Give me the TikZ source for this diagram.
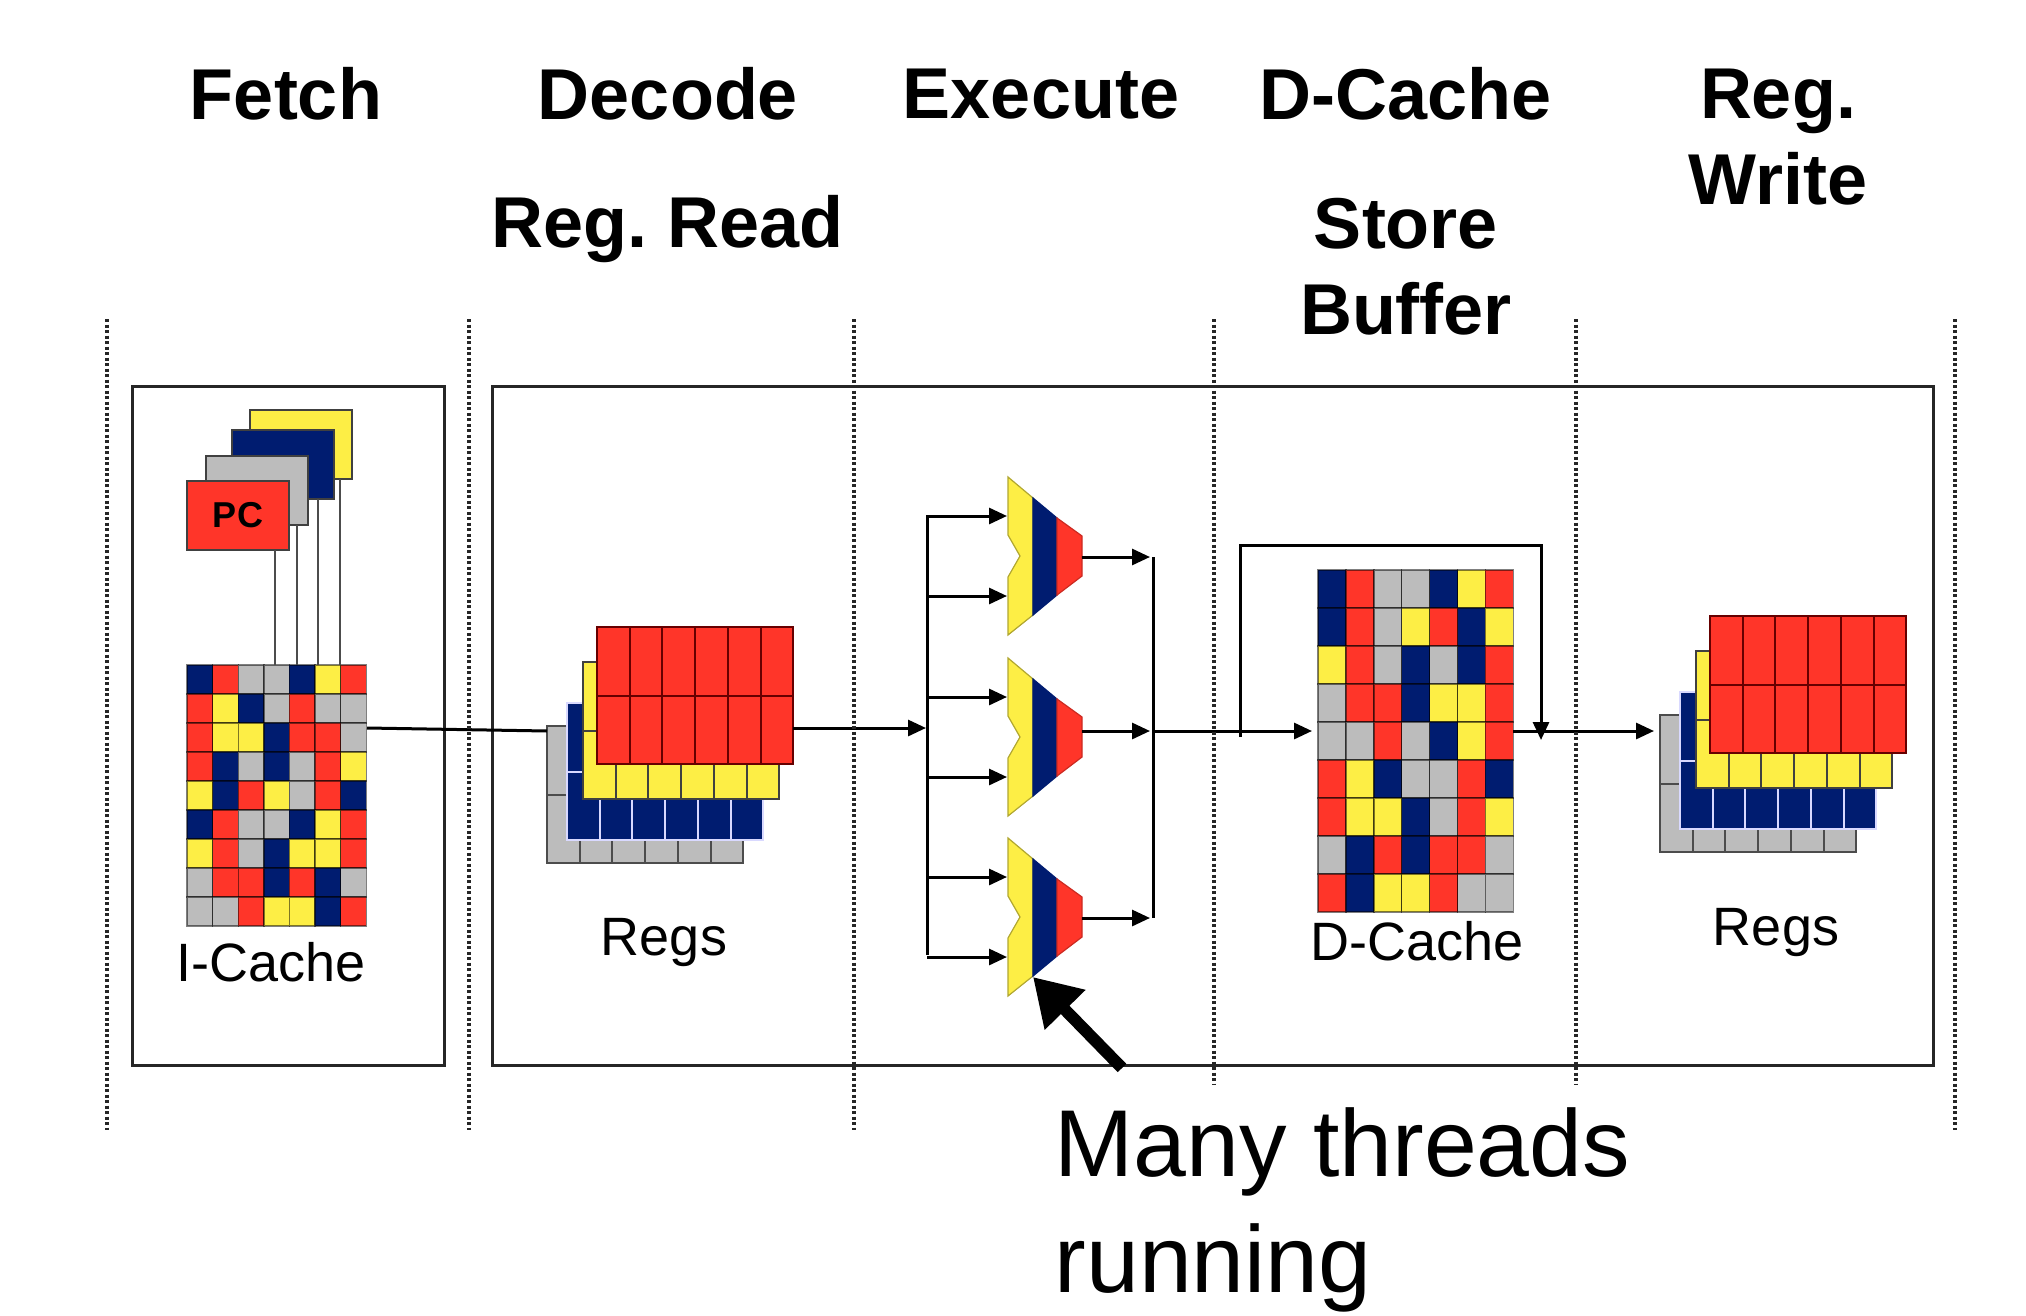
\documentclass[tikz,border=0pt]{standalone}
\usepackage{fontspec}
\setmainfont{Liberation Sans}
\usetikzlibrary{arrows.meta, positioning}

\definecolor{cellR}{HTML}{FF3529}
\definecolor{cellY}{HTML}{FDEE45}
\definecolor{cellB}{HTML}{001C70}
\definecolor{cellG}{HTML}{BCBCBC}

\tikzset{
  hold/.style={inner sep=0pt, outer sep=0pt, anchor=north west},
  plane/.style={hold, minimum width=196pt, minimum height=137pt, line width=2pt},
  pcreg/.style={hold, draw=black!75, line width=2pt, minimum width=102pt, minimum height=69pt},
  stage/.style={draw=black!85, line width=3pt},
  divider/.style={line width=3.6pt, dash pattern=on 3pt off 2.5pt, black!85},
  sig/.style={->, line width=3pt, shorten >=1pt},
  pin/.style={line width=2.4pt, black!70},
  head/.style={font=\fontsize{72}{86}\selectfont\bfseries, align=center},
  part/.style={font=\fontsize{54}{60}\selectfont},
}

\newcommand{\cachegrid}[6]{%
  \node[hold, minimum width=7*#4 pt, minimum height=9*#5 pt] (#1) at (#2,#3) {};
  \foreach \row [count=\r] in {#6}
    \foreach \c [count=\k] in \row
      \path[fill=cell\c, draw=black, draw opacity=.5, line width=1.4pt]
        ({#2+(\k-1)*#4},{#3+(\r-1)*#5}) rectangle ++(#4,#5);
}

\newcommand{\regplane}[5]{%
  \node[plane, fill=#4, draw=#5] (#1) at (#2,#3) {};
  \foreach \k in {1,...,5}
    \draw[#5, line width=2pt] ([xshift=\k*32.7pt]#1.north west) -- ([xshift=\k*32.7pt]#1.south west);
  \draw[#5, line width=2pt] (#1.west) -- (#1.east);
}

\newcommand{\regstack}[3]{%
  \regplane{#1G}{#2-50}{#3+99}{cellG}{black!70}
  \regplane{#1B}{#2-30}{#3+76}{cellB}{blue!15}
  \regplane{#1Y}{#2-14}{#3+35}{cellY}{black!75}
  \regplane{#1R}{#2}{#3}{cellR}{red!40!black}
}

\newcommand{\alu}[3]{%
  \begin{scope}[shift={(1008,#2)}, line width=1.2pt]
    \filldraw[fill=cellY, draw=cellY!70!black] (0,-79) -- (25,-58) -- (25,59) -- (0,79) -- (0,21) -- (12,0) -- (0,-21) -- cycle;
    \filldraw[fill=cellB, draw=cellB] (25,-58) -- (49,-38) -- (49,39) -- (25,59) -- cycle;
    \filldraw[fill=cellR, draw=cellR!80!black] (49,-38) -- (74,-20) -- (74,20) -- (49,39) -- cycle;
    \coordinate (#1a) at (0,-40);
    \coordinate (#1b) at (0,40);
    \coordinate (#1o) at (74,#3);
  \end{scope}
}

\begin{document}
\frenchspacing
\begin{tikzpicture}[
        x=1pt, y=-1pt, >={Triangle[length=18pt,width=16pt]},
        ]
        \useasboundingbox (0,0) rectangle (2026,1316);

        \node[head] (fetch)   at (286,94)   {Fetch};
        \node[head] (decode)  at (668,94)   {Decode};
        \node[head] (regread) at (668,229)  {Reg. Read};
        \node[head] (execute) at (1041,94)  {Execute};
        \node[head] (dcachet) at (1406,94)  {D-Cache};
        \node[head] (store)   at (1406,267) {Store\\Buffer};
        \node[head] (regwr)   at (1778,137) {Reg.\\Write};

        \draw[stage] (132,386) rectangle (444,1065);
        \draw[stage] (492,386) rectangle (1933,1065);

        % program counters
        \node[pcreg, fill=cellY] (pcY) at (250,410) {};
        \node[pcreg, fill=cellB] (pcB) at (232,430) {};
        \node[pcreg, fill=cellG] (pcG) at (206,456) {};
        \node[pcreg, fill=cellR, font=\fontsize{36}{36}\selectfont\bfseries, align=center] (pcR) at (187,481) {PC};

        \cachegrid{icache}{187}{665}{25.6}{29}{
          {B,R,G,G,B,Y,R},{R,Y,B,G,R,G,G},{R,Y,Y,B,R,R,G},
          {R,B,G,B,G,R,Y},{Y,B,R,Y,G,R,B},{B,R,G,G,B,Y,R},
          {Y,R,G,B,Y,Y,R},{G,R,R,B,R,B,G},{G,G,R,Y,Y,B,R}}
        \node[part] (icachel) at (271,962) {I-Cache};

        \foreach \n/\px in {pcR/275,pcG/297,pcB/318,pcY/340}
          \draw[pin] (\n.south -| \px,0) -- (icache.north -| \px,0);

        \regstack{regsA}{597}{627}
        \node[part] (regsAl) at (664,943) {Regs};

        \alu{aluA}{556}{1}
        \alu{aluB}{737}{-6}
        \alu{aluC}{917}{1}

        \coordinate (busT) at (927,515);
        \coordinate (busB) at (927,955);
        \coordinate (busI) at (927,728);
        \coordinate (mrgT) at (1153,557);
        \coordinate (mrgB) at (1153,918);
        \coordinate (mrgO) at (1153,731);

        \cachegrid{dcache}{1318}{570}{27.9}{38}{
          {B,R,G,G,B,Y,R},{B,R,G,Y,R,B,Y},{Y,R,G,B,G,B,R},
          {G,R,R,B,Y,Y,R},{G,G,R,G,B,Y,R},{R,Y,B,G,G,R,B},
          {R,Y,Y,B,G,R,Y},{G,B,R,B,R,R,G},{R,B,Y,Y,R,G,G}}
        \node[part] (dcachel) at (1417,941) {D-Cache};

        \regstack{regsB}{1710}{616}
        \node[part] (regsBl) at (1776,933) {Regs};

        % wires
        \coordinate (icacheO) at (367,728);
        \coordinate (regsAI)  at (547,731);
        \coordinate (regsAO)  at (793,728);
        \coordinate (dcacheI) at (1318,731);
        \coordinate (dcacheO) at (1513,731);
        \coordinate (regsBI)  at (1661,731);
        \coordinate (loopS)   at (1240,737);
        \coordinate (loopE)   at (1541,741);

        \draw[line width=3pt] (icacheO) -- (regsAI);
        \path[sig] (regsAO) edge (busI);
        \draw[line width=3pt] (busT) -- (busB);
        \draw[line width=3pt] (mrgT) -- (mrgB);
        \foreach \n in {aluA,aluB,aluC} {
          \path[sig] (\n a -| busT) edge (\n a) (\n b -| busT) edge (\n b);
          \path[sig, shorten >=3pt] (\n o) edge (\n o -| mrgT);
        }
        \path[sig, shorten >=6pt] (mrgO) edge (dcacheI);
        \path[sig, shorten >=7pt] (dcacheO) edge (regsBI);
        \draw[sig] (loopS) -- (1240,545) -- (1541,545) -- (loopE);

        % stage dividers
        \foreach \px/\py in {107/1130,469/1130,854/1130,1214/1085,1576/1085,1955/1130}
          \draw[divider] (\px,319) -- (\px,\py);

        \coordinate (noteT) at (1033,977);
        \coordinate (noteS) at (1122,1068);
        \draw[-{Triangle[length=46pt,width=54pt]}, line width=12pt] (noteS) -- (noteT);
        \node[font=\fontsize{95}{116}\selectfont, align=left, anchor=west] (note) at (1051,1210) {Many threads\\running};
\end{tikzpicture}
\end{document}
